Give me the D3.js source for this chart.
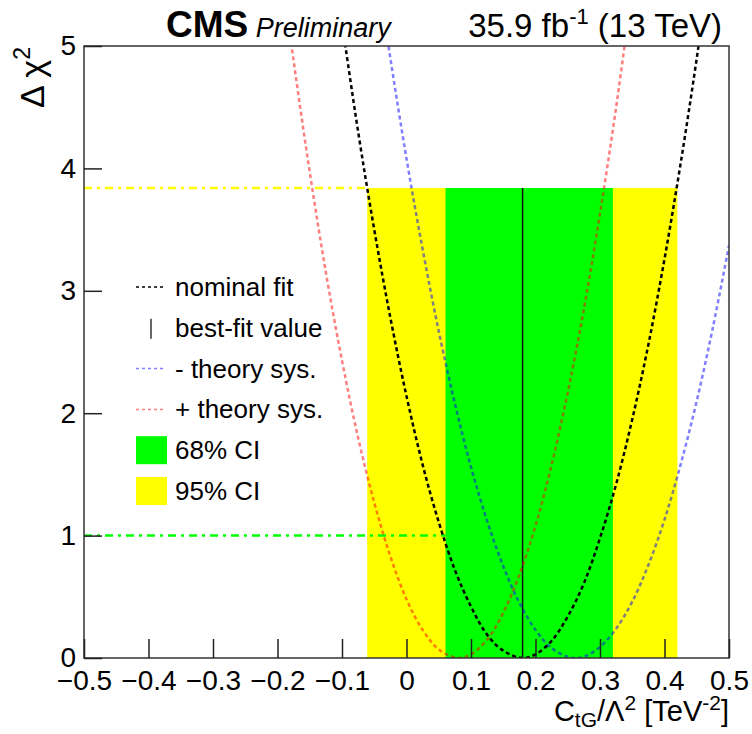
<!DOCTYPE html>
<html>
<head>
<meta charset="utf-8">
<script src="https://cdn.jsdelivr.net/npm/d3@7"></script>
<style>
  body { margin: 0; background: #fff; }
  text { font-family: "Liberation Sans", Arial, Helvetica, sans-serif; }
</style>
</head>
<body>
<svg width="752" height="734"></svg>
<script>
// values
var xTicks = [-0.5, -0.4, -0.3, -0.2, -0.1, 0, 0.1, 0.2, 0.3, 0.4, 0.5];
var yTicks = [0, 1, 2, 3, 4, 5];

var nominalX = [-0.1, -0.075, -0.05, -0.025, 0, 0.025, 0.05, 0.075, 0.1, 0.125, 0.15, 0.179, 0.2, 0.225, 0.25, 0.275, 0.3, 0.325, 0.35, 0.375, 0.4, 0.425, 0.45, 0.475];
var nominalY = [5.19, 4.30, 3.50, 2.78, 2.14, 1.58, 1.11, 0.72, 0.42, 0.19, 0.06, 0.00, 0.03, 0.14, 0.34, 0.61, 0.98, 1.42, 1.95, 2.56, 3.26, 4.04, 4.90, 5.84];

var minusX = [-0.05, -0.025, 0, 0.025, 0.05, 0.075, 0.1, 0.125, 0.15, 0.175, 0.2, 0.225, 0.25, 0.262, 0.275, 0.3, 0.325, 0.35, 0.375, 0.4, 0.425, 0.45, 0.475, 0.5];
var minusY = [5.79, 4.90, 4.08, 3.34, 2.67, 2.08, 1.56, 1.12, 0.75, 0.45, 0.23, 0.08, 0.01, 0.00, 0.01, 0.09, 0.24, 0.46, 0.76, 1.13, 1.58, 2.10, 2.70, 3.37];

var plusX = [-0.2, -0.175, -0.15, -0.125, -0.1, -0.075, -0.05, -0.025, 0, 0.025, 0.05, 0.08, 0.1, 0.125, 0.15, 0.175, 0.2, 0.225, 0.25, 0.275, 0.3, 0.325, 0.35];
var plusY = [5.88, 4.88, 3.97, 3.15, 2.43, 1.80, 1.27, 0.83, 0.48, 0.23, 0.07, 0.00, 0.03, 0.15, 0.37, 0.68, 1.08, 1.58, 2.17, 2.85, 3.63, 4.50, 5.47];

var bestFit = 0.180;
var ci68 = [0.0605, 0.320];
var ci95 = [-0.061, 0.420];
var level68 = 1;
var level95 = 3.84;

var legendLabels = ["nominal fit", "best-fit value", "- theory sys.", "+ theory sys.", "68% CI", "95% CI"];

var svg = d3.select("svg"),
  m = { left: 84, right: 729, top: 46, bottom: 658 };

var x = d3.scaleLinear().domain([-0.5, 0.5]).range([m.left, m.right]);
var y = d3.scaleLinear().domain([0, 5]).range([m.bottom, m.top]);

svg.append("clipPath").attr("id", "plot")
  .append("rect")
  .attr("x", m.left).attr("y", m.top)
  .attr("width", m.right - m.left).attr("height", m.bottom - m.top);

var g = svg.append("g").attr("clip-path", "url(#plot)");

// confidence bands
g.append("rect")
  .attr("x", x(ci95[0])).attr("width", x(ci95[1]) - x(ci95[0]))
  .attr("y", y(level95)).attr("height", y(0) - y(level95))
  .attr("fill", "#ffff00");
g.append("rect")
  .attr("x", x(ci68[0])).attr("width", x(ci68[1]) - x(ci68[0]))
  .attr("y", y(level95)).attr("height", y(0) - y(level95))
  .attr("fill", "#00ff00");

// threshold lines
g.append("line")
  .attr("x1", m.left).attr("x2", x(ci95[0]))
  .attr("y1", y(level95)).attr("y2", y(level95))
  .attr("stroke", "#ffff00").attr("stroke-width", 2.5)
  .attr("stroke-dasharray", "8,5,3,5");
g.append("line")
  .attr("x1", m.left).attr("x2", x(ci68[0]))
  .attr("y1", y(level68)).attr("y2", y(level68))
  .attr("stroke", "#00ff00").attr("stroke-width", 2.5)
  .attr("stroke-dasharray", "8,5,3,5");

// best fit
g.append("line")
  .attr("x1", x(bestFit)).attr("x2", x(bestFit))
  .attr("y1", y(0)).attr("y2", y(level95))
  .attr("stroke", "#111").attr("stroke-width", 1.5);

var line = d3.line()
  .x(function(d) { return x(d[0]); })
  .y(function(d) { return y(d[1]); })
  .curve(d3.curveCatmullRom);

var curves = [
  { xs: nominalX, ys: nominalY, color: "#000" },
  { xs: minusX, ys: minusY, color: "rgba(0,0,255,0.5)" },
  { xs: plusX, ys: plusY, color: "rgba(255,0,0,0.5)" }
];

g.selectAll("path.curve")
  .data(curves)
  .enter().append("path")
  .attr("class", "curve")
  .attr("fill", "none")
  .attr("stroke", function(d) { return d.color; })
  .attr("stroke-width", 2.5)
  .attr("stroke-dasharray", "4,3")
  .attr("d", function(d) { return line(d3.zip(d.xs, d.ys)); });

// frame and axes
svg.append("rect")
  .attr("x", m.left).attr("y", m.top)
  .attr("width", m.right - m.left).attr("height", m.bottom - m.top)
  .attr("fill", "none").attr("stroke", "#333").attr("stroke-width", 1.5);

var xAxis = svg.append("g")
  .attr("transform", "translate(0," + m.bottom + ")")
  .call(d3.axisBottom(x).tickValues(xTicks).tickSize(-19).tickPadding(12)
    .tickFormat(function(d) { return d3.format(".1f")(d).replace("-", "\u2013").replace(/^\u2013?0\.0$/, "0"); }));
xAxis.select(".domain").remove();
xAxis.selectAll("line").attr("stroke", "#222").attr("stroke-width", 1.5);
xAxis.selectAll("text").attr("font-size", 28).attr("fill", "#000")
  .attr("font-family", "'Liberation Sans', Arial, sans-serif");

var yAxis = svg.append("g")
  .attr("transform", "translate(" + m.left + ",0)")
  .call(d3.axisLeft(y).tickValues(yTicks).tickSize(-18).tickPadding(8).tickFormat(d3.format("d")));
yAxis.select(".domain").remove();
yAxis.selectAll("line").attr("stroke", "#222").attr("stroke-width", 1.5);
yAxis.selectAll("text").attr("font-size", 28).attr("fill", "#000")
  .attr("font-family", "'Liberation Sans', Arial, sans-serif");

// axis titles
var xt = svg.append("text")
  .attr("x", m.right).attr("y", 721)
  .attr("text-anchor", "end")
  .attr("font-size", 29);
xt.append("tspan").text("C");
xt.append("tspan").attr("font-size", 21).attr("dy", 6).text("tG");
xt.append("tspan").attr("dy", -6).text("/\u039B");
xt.append("tspan").attr("font-size", 21).attr("dy", -11).text("2");
xt.append("tspan").attr("dy", 11).text(" [TeV");
xt.append("tspan").attr("font-size", 21).attr("dy", -11).text("-2");
xt.append("tspan").attr("dy", 11).text("]");

var yt = svg.append("text")
  .attr("transform", "translate(44,47) rotate(-90)")
  .attr("text-anchor", "end")
  .attr("font-size", 34);
yt.append("tspan").text("\u0394 \u03C7");
yt.append("tspan").attr("font-size", 23).attr("dy", -14).text("2");

// header
var hd = svg.append("text").attr("x", 166).attr("y", 37).attr("font-size", 37);
hd.append("tspan").attr("font-weight", "bold").text("CMS");
hd.append("tspan").attr("font-style", "italic").attr("font-size", 27).text(" Preliminary");

var lumi = svg.append("text").attr("x", 722).attr("y", 37).attr("text-anchor", "end").attr("font-size", 33);
lumi.append("tspan").text("35.9 fb");
lumi.append("tspan").attr("font-size", 22).attr("dy", -13).text("-1");
lumi.append("tspan").attr("dy", 13).text(" (13 TeV)");

// legend
var legend = svg.append("g")
  .selectAll("g")
  .data(legendLabels)
  .enter().append("g")
  .attr("transform", function(d, i) { return "translate(0," + (287 + i * 40.8) + ")"; });

legend.append("text")
  .attr("x", 175).attr("y", 9)
  .attr("font-size", 26)
  .text(function(d) { return d; });

legend.each(function(d, i) {
  var s = d3.select(this);
  if (i === 0 || i === 2 || i === 3) {
    s.append("line")
      .attr("x1", 136).attr("x2", 166)
      .attr("stroke", [ "#000", null, "rgba(0,0,255,0.5)", "rgba(255,0,0,0.5)" ][i])
      .attr("stroke-width", 1.5)
      .attr("stroke-dasharray", "3,3");
  } else if (i === 1) {
    s.append("line")
      .attr("x1", 151).attr("x2", 151).attr("y1", -9).attr("y2", 11)
      .attr("stroke", "#333").attr("stroke-width", 1.5);
  } else {
    s.append("rect")
      .attr("x", 136).attr("y", -14).attr("width", 31).attr("height", 28)
      .attr("fill", i === 4 ? "#00ff00" : "#ffff00");
  }
});
</script>
</body>
</html>
